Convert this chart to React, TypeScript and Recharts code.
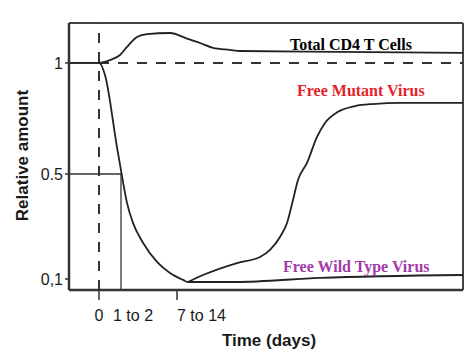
import { LineChart, Line, XAxis, YAxis, ReferenceLine, Label } from 'recharts';

// x is in schematic chart units (0 = infection, axis is not to scale)
const cd4Days = [-3, 0, 1.1, 2.1, 2.8, 3.8, 4.8, 7.1, 8.8, 10.1, 11.4, 13.1, 14.1, 24, 36.4];
const cd4Values = [1, 1, 1.013, 1.036, 1.072, 1.117, 1.13, 1.135, 1.11, 1.09, 1.068, 1.059, 1.054, 1.05, 1.045];

const wildDays = [-3, 0, 0.6, 1.8, 2.3, 2.8, 3.4, 4.4, 5.8, 7.1, 8.4, 8.9, 13.6, 22.1, 36.4];
const wildValues = [1, 1, 0.946, 0.62, 0.49, 0.37, 0.28, 0.19, 0.104, 0.054, 0.023, 0.0135, 0.0135, 0.032, 0.045];

const mutantDays = [8.9, 10.4, 13.8, 16.1, 17.1, 18.1, 18.8, 19.4, 19.9, 20.8, 21.8, 22.6, 23.9, 25.6, 27.3, 30.3, 36.4];
const mutantValues = [0.0135, 0.045, 0.099, 0.126, 0.158, 0.216, 0.279, 0.383, 0.473, 0.55, 0.667, 0.73, 0.78, 0.806, 0.815, 0.82, 0.82];

const xTicks = [0, 1.4, 7.8];
const xTickLabels = ['0', '1 to 2', '7 to 14'];
const yTicks = [0.027, 0.5, 1];
const yTickLabels = ['0,1', '0.5', '1'];

const xDomain = [-3, 36.4];
const yDomain = [-0.0225, 1.18];
const halfLevel = 0.5;
const halfDay = 2.2;

const toRows = (days: number[], values: number[]) => days.map((d, i) => ({ day: d, value: values[i] }));

const axisColor = '#333';
const curveColor = '#222';
const sans = '"Liberation Sans", Arial, sans-serif';
const serif = '"Liberation Serif", "Times New Roman", serif';

const XTick = (props: any) => {
  const { x, y, payload } = props;
  const i = xTicks.indexOf(payload.value);
  return (
    <g>
      {i !== 1 && <line x1={x} x2={x} y1={y - 10} y2={y} stroke={axisColor} strokeWidth={1.5} />}
      <text x={x} y={y + 21} textAnchor={i === 0 ? 'middle' : 'start'} fontFamily={sans} fontSize={16} fill="#1a1a1a">
        {xTickLabels[i]}
      </text>
    </g>
  );
};

const seriesLabel = (text: string, color: string, left: number, top: number) => (
  <div
    style={{
      position: 'absolute',
      left,
      top,
      fontFamily: serif,
      fontWeight: 'bold',
      fontSize: 16,
      color,
      whiteSpace: 'nowrap',
      lineHeight: 1,
    }}
  >
    {text}
  </div>
);

export default function App() {
  return (
    <div style={{ position: 'absolute', left: 0, top: 0, width: 475, height: 360, background: '#fff' }}>
      <LineChart width={475} height={360} margin={{ top: 23, right: 12, left: 0, bottom: 0 }}>
        <XAxis
          dataKey="day"
          type="number"
          domain={xDomain}
          ticks={xTicks}
          interval={0}
          allowDataOverflow
          height={70}
          tickSize={10}
          tickMargin={0}
          tickLine={false}
          tick={<XTick />}
          axisLine={{ stroke: axisColor, strokeWidth: 2.5 }}
        >
          <Label
            content={(p: any) => (
              <text
                x={p.viewBox.x + p.viewBox.width / 2 + 3}
                y={p.viewBox.y + 56}
                textAnchor="middle"
                fontFamily={sans}
                fontWeight="bold"
                fontSize={17}
                fill="#1a1a1a"
              >
                Time (days)
              </text>
            )}
          />
        </XAxis>
        <YAxis
          type="number"
          domain={yDomain}
          ticks={yTicks}
          interval={0}
          allowDataOverflow
          width={69}
          tickSize={4}
          tickMargin={2}
          tickFormatter={(v: number) => yTickLabels[yTicks.indexOf(v)]}
          tick={{ fontFamily: sans, fontSize: 16, fill: '#1a1a1a' }}
          tickLine={{ stroke: axisColor, strokeWidth: 1.5 }}
          axisLine={{ stroke: axisColor, strokeWidth: 2.5 }}
        >
          <Label
            content={(p: any) => {
              const cx = p.viewBox.x + 22;
              const cy = p.viewBox.y + p.viewBox.height / 2 - 1;
              return (
                <text
                  x={cx}
                  y={cy}
                  transform={`rotate(-90 ${cx} ${cy})`}
                  textAnchor="middle"
                  dominantBaseline="central"
                  fontFamily={sans}
                  fontWeight="bold"
                  fontSize={17}
                  fill="#1a1a1a"
                >
                  Relative amount
                </text>
              );
            }}
          />
        </YAxis>

        <ReferenceLine y={yDomain[1]} stroke="#444" strokeWidth={2} />
        <ReferenceLine x={xDomain[1]} stroke="#444" strokeWidth={2} />
        <ReferenceLine x={0} stroke="#333" strokeWidth={2} strokeDasharray="10 9" />
        <ReferenceLine segment={[{ x: 0, y: 1 }, { x: xDomain[1], y: 1 }]} stroke="#333" strokeWidth={2} strokeDasharray="10 9" />
        <ReferenceLine segment={[{ x: xDomain[0], y: halfLevel }, { x: halfDay, y: halfLevel }]} stroke="#333" strokeWidth={1.3} />
        <ReferenceLine segment={[{ x: halfDay, y: halfLevel }, { x: halfDay, y: yDomain[0] }]} stroke="#333" strokeWidth={1.3} />

        <Line data={toRows(cd4Days, cd4Values)} dataKey="value" type="monotone" stroke={curveColor} strokeWidth={1.8} dot={false} isAnimationActive={false} />
        <Line data={toRows(wildDays, wildValues)} dataKey="value" type="monotone" stroke={curveColor} strokeWidth={1.8} dot={false} isAnimationActive={false} />
        <Line data={toRows(mutantDays, mutantValues)} dataKey="value" type="monotone" stroke={curveColor} strokeWidth={1.8} dot={false} isAnimationActive={false} />
      </LineChart>
      {seriesLabel('Total CD4 T Cells', '#000', 290, 37)}
      {seriesLabel('Free Mutant Virus', '#e51f2b', 297, 83)}
      {seriesLabel('Free Wild Type Virus', '#a23ba8', 283, 259)}
    </div>
  );
}
